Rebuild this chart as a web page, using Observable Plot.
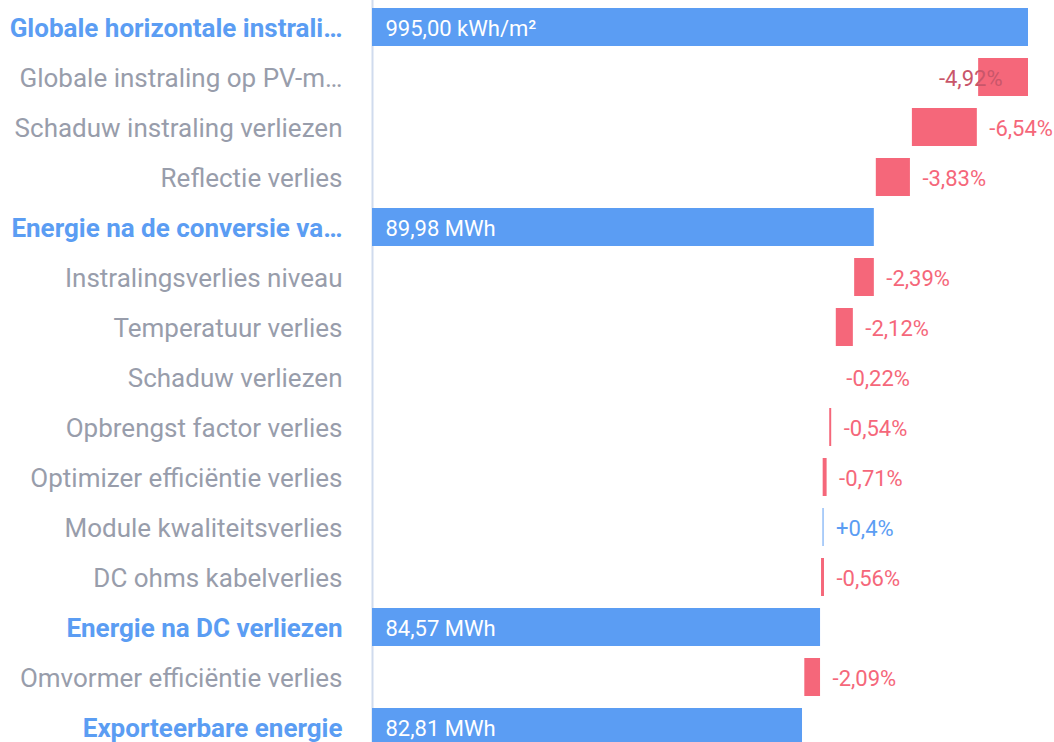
<!DOCTYPE html>
<html><head><meta charset="utf-8">
<script src="https://cdn.jsdelivr.net/npm/d3@7"></script>
<script src="https://cdn.jsdelivr.net/npm/@observablehq/plot@0.6"></script>
<style>
html,body{margin:0;padding:0;background:#fff;overflow:hidden;}
</style></head>
<body><div id="chart"></div>
<script>
const categories = [
  "Globale horizontale instrali…",
  "Globale instraling op PV-m…",
  "Schaduw instraling verliezen",
  "Reflectie verlies",
  "Energie na de conversie va…",
  "Instralingsverlies niveau",
  "Temperatuur verlies",
  "Schaduw verliezen",
  "Opbrengst factor verlies",
  "Optimizer efficiëntie verlies",
  "Module kwaliteitsverlies",
  "DC ohms kabelverlies",
  "Energie na DC verliezen",
  "Omvormer efficiëntie verlies",
  "Exporteerbare energie"
];
const kinds = ["total","loss","loss","loss","total","loss","loss","loss","loss","loss","gain","loss","total","loss","total"];
// bar extents in relative units (first total = 100)
const barStart = [0, 92.4, 82.3, 76.8, 0, 73.5, 70.7, 70.4, 69.7, 68.7, 68.68, 68.45, 0, 65.9, 0];
const barEnd   = [100, 100, 92.2, 82.0, 76.5, 76.5, 73.3, 70.4, 70.0, 69.3, 68.83, 68.9, 68.3, 68.3, 65.55];
const valueLabels = ["995,00 kWh/m²","-4,92%","-6,54%","-3,83%","89,98 MWh","-2,39%","-2,12%","-0,22%","-0,54%","-0,71%","+0,4%","-0,56%","84,57 MWh","-2,09%","82,81 MWh"];

const BLUE = "#5b9df3", RED = "#f5677a", GREY = "#989dab";
const rows = categories.map((c, i) => ({
  cat: c, kind: kinds[i], x1: barStart[i], x2: barEnd[i], label: valueLabels[i]
}));
const totals = rows.filter(d => d.kind === "total");
const deltas = rows.filter(d => d.kind !== "total");
const deltaFits = deltas.filter(d => Math.max(d.x1, d.x2) <= 95);
const deltaOver = deltas.filter(d => Math.max(d.x1, d.x2) > 95);

const chart = Plot.plot({
  width: 1054,
  height: 760,
  marginLeft: 372,
  marginRight: 26,
  marginTop: 8,
  marginBottom: 14,
  style: {fontFamily: "Roboto, sans-serif", background: "#fff"},
  x: {domain: [0, 100], axis: null},
  y: {domain: categories, paddingInner: 0.24, paddingOuter: 0, axis: null},
  marks: [
    Plot.ruleX([0], {stroke: "#d0dbee", strokeWidth: 2, insetTop: -8, insetBottom: -14}),
    Plot.barX(rows, {
      y: "cat", x1: "x1", x2: "x2",
      fill: d => d.kind === "total" || d.kind === "gain" ? BLUE : RED
    }),
    Plot.text(totals, {
      y: "cat", x: 0, text: "label", textAnchor: "start", dx: 13, dy: 1,
      fill: "#fff", fontSize: 22
    }),
    Plot.text(deltaFits, {
      y: "cat", x: d => Math.max(d.x1, d.x2), text: "label", textAnchor: "start", dx: 12, dy: 1,
      fill: d => d.kind === "gain" ? BLUE : RED, fontSize: 22
    }),
    Plot.text(deltaOver, {
      y: "cat", x: d => Math.max(d.x1, d.x2), text: "label", textAnchor: "end", dx: -26, dy: 1,
      fill: "#c9566a", fontSize: 22
    }),
    Plot.text(rows.filter(d => d.kind === "total"), {
      y: "cat", x: 0, text: "cat", textAnchor: "end", dx: -30, dy: 1,
      fill: BLUE, fontWeight: "bold", fontSize: 26
    }),
    Plot.text(rows.filter(d => d.kind !== "total"), {
      y: "cat", x: 0, text: "cat", textAnchor: "end", dx: -30, dy: 1,
      fill: GREY, fontSize: 26
    })
  ]
});
document.getElementById("chart").appendChild(chart);
</script>
</body></html>
